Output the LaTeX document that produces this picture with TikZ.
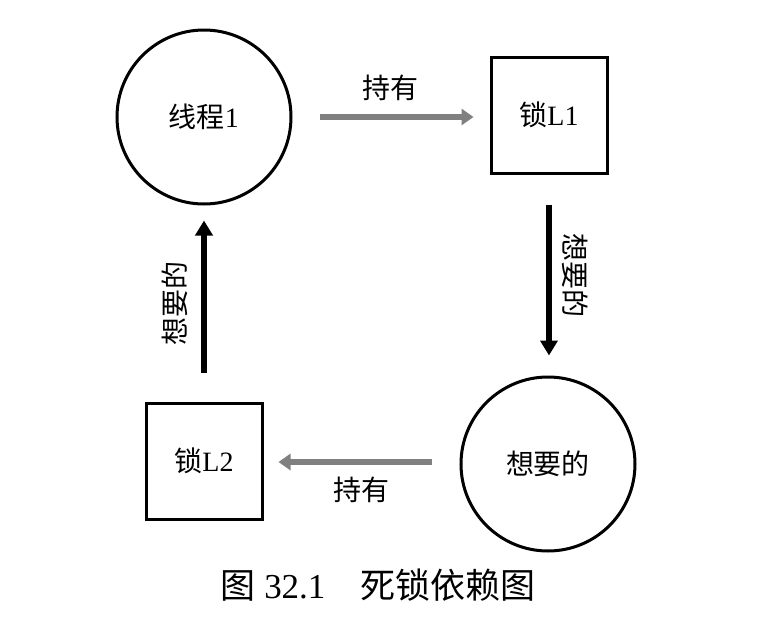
\documentclass[tikz,border=0pt]{standalone}
\usepackage{fontspec}
\setmainfont{Liberation Serif}
\newfontfamily\cjk{Noto Sans CJK SC}
\usetikzlibrary{arrows.meta}
\definecolor{arrowgray}{HTML}{808080}
\tikzset{
  x=0.5pt, y=-0.5pt,
  thread/.style={circle, draw, line width=1.5pt, minimum size=87pt, inner sep=0pt, font=\fontsize{14pt}{16pt}\selectfont},
  lockbox/.style={rectangle, draw, line width=1.5pt, minimum size=58pt, inner sep=0pt, font=\fontsize{14pt}{16pt}\selectfont},
  holds/.style={draw=arrowgray, line width=2.8pt, -{Triangle[length=6pt,width=8pt]}},
  wants/.style={draw=black, line width=3pt, -{Triangle[length=7.5pt,width=8.5pt]}},
  elabel/.style={font=\fontsize{14pt}{16pt}\selectfont\cjk, inner sep=0pt}
}
\begin{document}
\begin{tikzpicture}
\useasboundingbox (0,0) rectangle (768,633);
\node[thread] (t1) at (204,117) {{\cjk 线程}1};
\node[lockbox] (l1) at (549,115) {{\cjk 锁}L1};
\node[thread] (t2) at (548,464) {\cjk 想要的};
\node[lockbox] (l2) at (204,461) {{\cjk 锁}L2};
\draw[holds, shorten <=13.5pt, shorten >=8pt] (t1.east |- 0,117) -- node[elabel, yshift=14.5pt] {持有} (l1.west |- 0,117);
\draw[wants, shorten <=15pt, shorten >=10pt] (l1.south) -- node[elabel, rotate=-90, yshift=13pt] {想要的} (t2.north -| l1.south);
\draw[holds, shorten <=14pt, shorten >=7.5pt] (t2.west |- 0,462) -- node[elabel, yshift=-14pt] {持有} (l2.east |- 0,462);
\draw[wants, shorten <=14.5pt, shorten >=7.5pt] (l2.north) -- node[elabel, rotate=90, yshift=14.5pt] {想要的} (t1.south -| l2.north);
\node[font=\fontsize{17.5pt}{20pt}\selectfont, inner sep=0pt] (cap) at (378,585) {{\cjk 图} 32.1\hspace{1em}{\cjk 死锁依赖图}};
\end{tikzpicture}
\end{document}
